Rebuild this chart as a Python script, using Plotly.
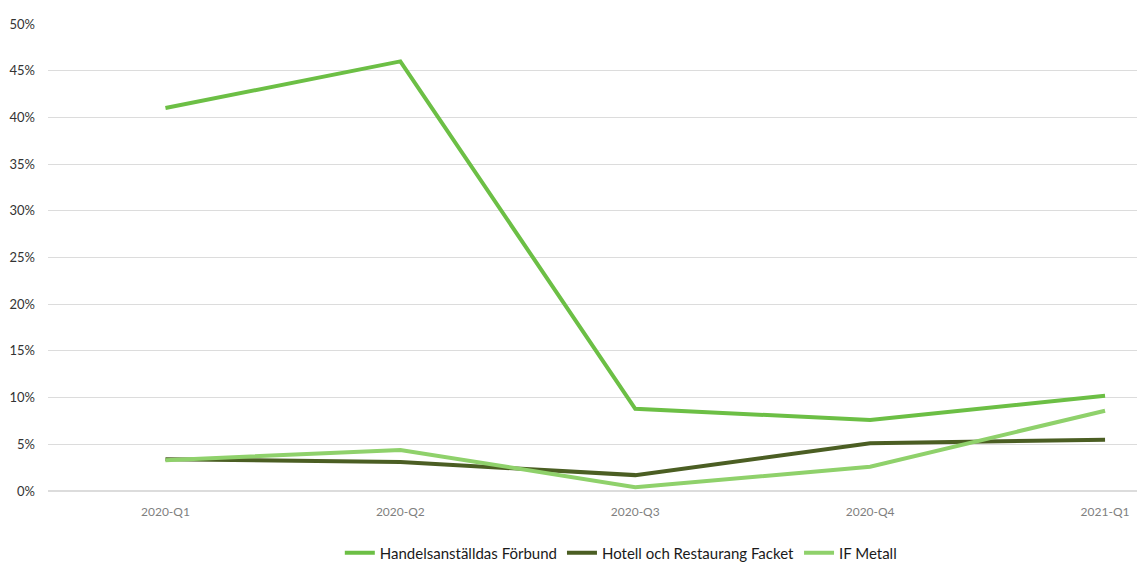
import plotly.graph_objects as go

quarters = ["2020-Q1", "2020-Q2", "2020-Q3", "2020-Q4", "2021-Q1"]
handels = [0.410, 0.460, 0.088, 0.076, 0.102]
hotell = [0.034, 0.031, 0.017, 0.051, 0.055]
if_metall = [0.033, 0.044, 0.004, 0.026, 0.086]

series = [
    ("Handelsanställdas Förbund", handels, "#6cbf45"),
    ("Hotell och Restaurang Facket", hotell, "#4b5e23"),
    ("IF Metall", if_metall, "#8fd16b"),
]

fig = go.Figure()
for name, vals, color in series:
    fig.add_trace(go.Scatter(x=quarters, y=vals, name=name, mode="lines",
                             line=dict(color=color, width=4)))

fig.update_layout(
    width=1137, height=562,
    margin=dict(l=48, r=0, t=24, b=71, autoexpand=False),
    paper_bgcolor="white", plot_bgcolor="white",
    font=dict(family="Lato, Open Sans, sans-serif", color="#595959"),
    legend=dict(orientation="h", x=0.526, xanchor="center", y=-0.133, yanchor="middle",
                font=dict(size=15, color="#1a1a1a"), itemwidth=30, tracegroupgap=0),
    showlegend=True,
)
fig.update_xaxes(type="category", range=[-0.5, 4.136], showgrid=False, showline=False,
                 zeroline=False, tickfont=dict(size=12, color="#7f7f7f"), ticklabelstandoff=12,
                 automargin=False)
fig.update_yaxes(range=[0, 0.5], dtick=0.05, tickformat=".0%", showgrid=True,
                 gridcolor="#dcdcdc", gridwidth=1, zeroline=True, zerolinecolor="#dcdcdc",
                 showline=False, tickfont=dict(size=13, color="#333333"), ticklabelstandoff=12,
                 automargin=False)

fig.write_html("out.html", config={"displayModeBar": False},
               post_script="document.body.style.margin='0';document.body.style.overflow='hidden';")
